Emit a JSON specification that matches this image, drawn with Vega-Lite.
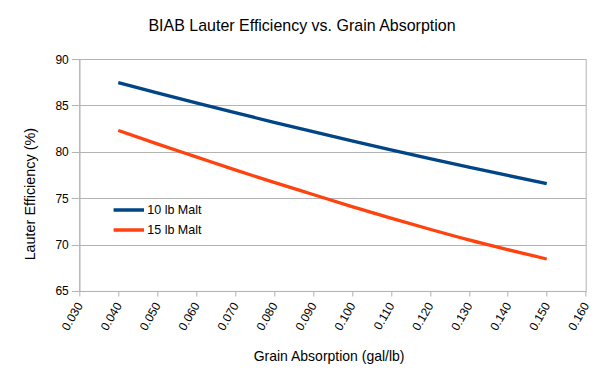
{
  "$schema": "https://vega.github.io/schema/vega-lite/v6.json",
  "autosize": {"type": "none"},
  "padding": {"left": 79.3, "top": 59, "right": 19, "bottom": 95},
  "width": 506.4,
  "height": 232,
  "background": "white",
  "title": {
    "text": "BIAB Lauter Efficiency vs. Grain Absorption",
    "font": "Liberation Sans",
    "fontSize": 16,
    "fontWeight": "normal",
    "color": "#000000",
    "anchor": "middle",
    "frame": "group",
    "dx": -30.5,
    "baseline": "alphabetic",
    "offset": 6
  },
  "config": {
    "font": "Liberation Sans",
    "view": {"stroke": "#b3b3b3", "strokeWidth": 1},
    "axis": {
      "labelFont": "Liberation Sans",
      "titleFont": "Liberation Sans",
      "labelColor": "#000000",
      "titleColor": "#000000",
      "labelFontSize": 12,
      "titleFontSize": 14,
      "titleFontWeight": "normal",
      "domainColor": "#b3b3b3",
      "tickColor": "#b3b3b3",
      "gridColor": "#b3b3b3",
      "gridOpacity": 1,
      "domainWidth": 1,
      "tickWidth": 1,
      "gridWidth": 1
    },
    "legend": {
      "orient": "none",
      "legendX": 37,
      "legendY": 138.5,
      "title": null,
      "symbolType": "M-1.45,0H1.45",
      "symbolSize": 441,
      "symbolStrokeWidth": 3.5,
      "symbolFillColor": "transparent",
      "labelFont": "Liberation Sans",
      "labelFontSize": 12.5,
      "labelColor": "#000000",
      "labelOffset": 6,
      "rowPadding": 0,
      "padding": 0
    }
  },
  "data": {
    "values": [
      {"absorption": 0.04, "efficiency": 87.45, "series": "10 lb Malt"},
      {"absorption": 0.05, "efficiency": 86.35, "series": "10 lb Malt"},
      {"absorption": 0.06, "efficiency": 85.27, "series": "10 lb Malt"},
      {"absorption": 0.07, "efficiency": 84.22, "series": "10 lb Malt"},
      {"absorption": 0.08, "efficiency": 83.18, "series": "10 lb Malt"},
      {"absorption": 0.09, "efficiency": 82.17, "series": "10 lb Malt"},
      {"absorption": 0.10, "efficiency": 81.18, "series": "10 lb Malt"},
      {"absorption": 0.11, "efficiency": 80.21, "series": "10 lb Malt"},
      {"absorption": 0.12, "efficiency": 79.27, "series": "10 lb Malt"},
      {"absorption": 0.13, "efficiency": 78.35, "series": "10 lb Malt"},
      {"absorption": 0.14, "efficiency": 77.45, "series": "10 lb Malt"},
      {"absorption": 0.15, "efficiency": 76.57, "series": "10 lb Malt"},
      {"absorption": 0.04, "efficiency": 82.3, "series": "15 lb Malt"},
      {"absorption": 0.05, "efficiency": 80.85, "series": "15 lb Malt"},
      {"absorption": 0.06, "efficiency": 79.45, "series": "15 lb Malt"},
      {"absorption": 0.07, "efficiency": 78.05, "series": "15 lb Malt"},
      {"absorption": 0.08, "efficiency": 76.7, "series": "15 lb Malt"},
      {"absorption": 0.09, "efficiency": 75.4, "series": "15 lb Malt"},
      {"absorption": 0.10, "efficiency": 74.1, "series": "15 lb Malt"},
      {"absorption": 0.11, "efficiency": 72.85, "series": "15 lb Malt"},
      {"absorption": 0.12, "efficiency": 71.65, "series": "15 lb Malt"},
      {"absorption": 0.13, "efficiency": 70.5, "series": "15 lb Malt"},
      {"absorption": 0.14, "efficiency": 69.45, "series": "15 lb Malt"},
      {"absorption": 0.15, "efficiency": 68.45, "series": "15 lb Malt"}
    ]
  },
  "mark": {"type": "line", "strokeWidth": 3.3, "interpolate": "monotone"},
  "encoding": {
    "x": {
      "field": "absorption",
      "type": "quantitative",
      "scale": {"domain": [0.03, 0.16], "nice": false, "zero": false},
      "axis": {
        "title": "Grain Absorption (gal/lb)",
        "titleFont": "Liberation Sans",
        "titleFontSize": 14,
        "values": [0.03, 0.04, 0.05, 0.06, 0.07, 0.08, 0.09, 0.1, 0.11, 0.12, 0.13, 0.14, 0.15, 0.16],
        "format": ".3f",
        "grid": false,
        "tickSize": 5,
        "labelAngle": -60,
        "labelAlign": "right",
        "labelBaseline": "middle",
        "labelPadding": 7,
        "labelFlush": false,
        "labelOverlap": false,
        "titleX": 249.3,
        "titleY": 65.7,
        "titleBaseline": "middle"
      }
    },
    "y": {
      "field": "efficiency",
      "type": "quantitative",
      "scale": {"domain": [65, 90], "nice": false, "zero": false},
      "axis": {
        "title": "Lauter Efficiency (%)",
        "titleFont": "Liberation Sans",
        "titleFontSize": 14.4,
        "values": [65, 70, 75, 80, 85, 90],
        "grid": true,
        "tickSize": 8,
        "labelPadding": 3,
        "labelFlush": false,
        "titleX": -48.3,
        "titleY": 134.7,
        "titleAngle": -90,
        "titleAlign": "center",
        "titleBaseline": "middle"
      }
    },
    "color": {
      "field": "series",
      "type": "nominal",
      "scale": {"domain": ["10 lb Malt", "15 lb Malt"], "range": ["#004586", "#ff420e"]},
      "legend": {"title": null}
    }
  }
}
